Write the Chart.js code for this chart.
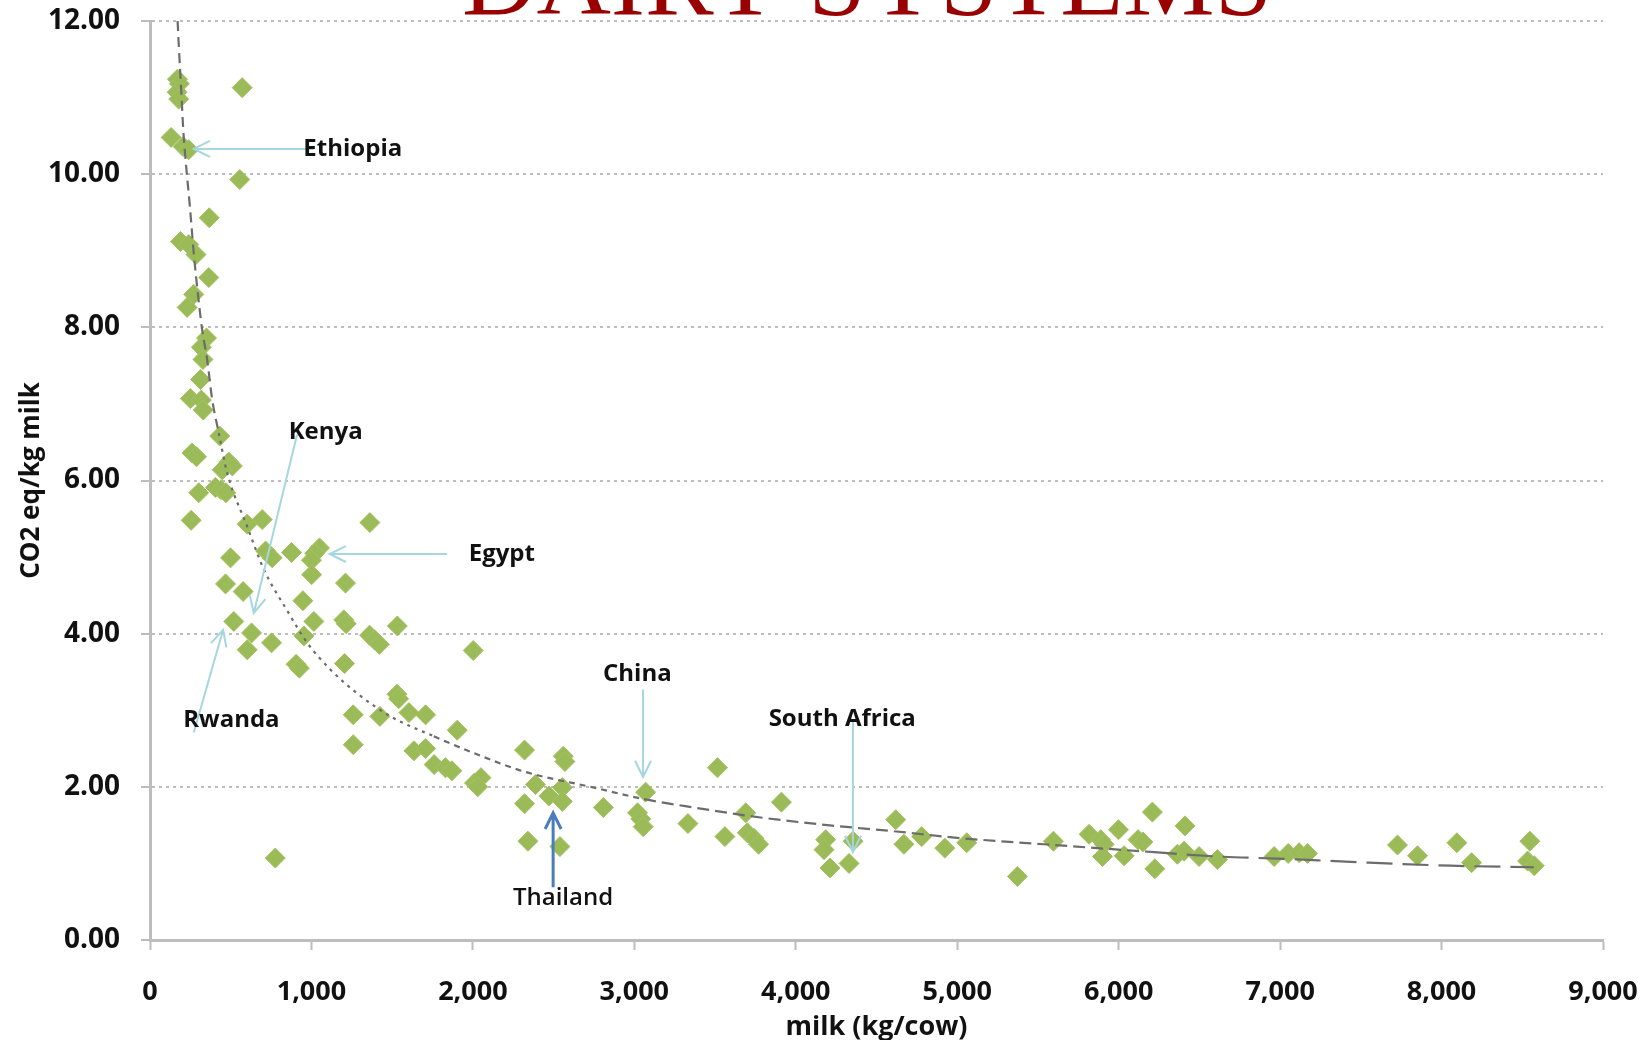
<!DOCTYPE html>
<html>
<head>
<meta charset="utf-8">
<script src="https://cdn.jsdelivr.net/npm/chart.js@4.4.1/dist/chart.umd.min.js"></script>
<style>
  html, body { margin: 0; padding: 0; background: #ffffff; overflow: hidden; }
  canvas { display: block; }
</style>
</head>
<body>
<canvas id="c" width="1648" height="1040"></canvas>
<script>
// Milk yield per cow (kg/cow) and emission intensity (kg CO2 eq per kg milk)
const milkYield = [
  170,182,168,178,571,131,205,240,556,367,
  189,240,285,364,271,230,350,318,328,313,
  250,318,330,432,260,288,488,510,447,302,
  405,440,470,255,602,695,1362,499,716,757,
  877,1050,1020,1000,1001,1211,468,577,947,1015,
  1200,1215,519,1532,629,953,1360,1390,1420,753,
  602,2002,905,925,1205,1530,1540,1259,1424,1604,
  1707,1903,1259,1635,1707,1760,1830,1870,2010,2050,
  2030,2320,2560,2570,2388,2554,2471,2554,2320,2341,
  2539,776,3515,3070,2808,3020,3040,3055,3332,3911,
  3690,3561,3700,3740,3770,4185,4175,4355,4212,4330,
  4619,4670,4780,4923,5059,5373,5596,5817,5889,5910,
  5999,5900,6034,6120,6150,6209,6224,6411,6364,6405,
  6498,6612,6963,7050,7118,7170,7727,7851,8095,8186,
  8547,8533,8574
];
const co2PerKg = [
  11.24,11.18,11.07,10.98,11.13,10.48,10.36,10.32,9.93,9.43,
  9.12,9.08,8.95,8.65,8.43,8.26,7.86,7.74,7.58,7.32,
  7.07,7.05,6.92,6.58,6.36,6.31,6.24,6.19,6.14,5.84,
  5.91,5.88,5.84,5.48,5.43,5.49,5.45,4.99,5.08,4.99,
  5.06,5.12,5.05,4.96,4.77,4.66,4.65,4.55,4.43,4.16,
  4.18,4.13,4.16,4.10,4.01,3.97,3.98,3.92,3.86,3.88,
  3.79,3.78,3.60,3.55,3.61,3.21,3.15,2.94,2.92,2.97,
  2.94,2.74,2.55,2.47,2.50,2.29,2.25,2.21,2.05,2.12,
  2.00,2.48,2.40,2.33,2.03,1.99,1.88,1.81,1.78,1.29,
  1.22,1.07,2.25,1.93,1.73,1.66,1.58,1.48,1.52,1.80,
  1.66,1.35,1.40,1.33,1.25,1.31,1.18,1.29,0.94,1.00,
  1.57,1.25,1.35,1.20,1.27,0.83,1.29,1.38,1.31,1.25,
  1.44,1.09,1.10,1.31,1.28,1.67,0.93,1.49,1.12,1.16,
  1.09,1.05,1.09,1.13,1.14,1.13,1.24,1.10,1.27,1.01,
  1.29,1.03,0.97
];

// Fitted trend curve, sampled along its length
const trendMilk = [171,179,193,206,224,247,271,296,323,354,385,426,478,602,705,850,974,1118,1284,1490,
                   1758,2006,2316,2750,3060,3369,3782,4196,4608,5022,5538,6199,6612,7025,7438,8058,8572];
const trendCo2  = [12.0,11.65,11.11,10.58,10.10,9.58,8.97,8.45,7.97,7.58,7.06,6.62,6.10,5.40,4.84,4.30,3.88,3.53,3.22,2.92,
                   2.66,2.44,2.20,1.99,1.84,1.73,1.60,1.50,1.42,1.33,1.25,1.15,1.09,1.06,1.02,0.97,0.95];

// Axis tick labels
const xTickLabels = ['0','1,000','2,000','3,000','4,000','5,000','6,000','7,000','8,000','9,000'];
const yTickLabels = ['0.00','2.00','4.00','6.00','8.00','10.00','12.00'];

// Country call-outs: label anchor, arrow tail and arrow tip, all in data units
const calloutNames  = ['Ethiopia','Kenya','Egypt','Rwanda','China','South Africa','Thailand'];
const calloutTextAt = [[950,10.24],[859,6.54],[1974,4.95],[206,2.78],[2806,3.38],[3832,2.80],[2248,0.46]];
const calloutFrom   = [[1014,10.33],[911,6.60],[1840,5.04],[271,2.71],[3054,3.27],[4354,2.88],[2497,0.69]];
const calloutTo     = [[271,10.33],[643,4.27],[1113,5.04],[453,4.05],[3054,2.13],[4354,1.15],[2497,1.66]];

const heading = 'DAIRY SYSTEMS';

const FONT = "'Open Sans', 'Noto Sans', sans-serif";
Chart.defaults.font.family = FONT;
Chart.defaults.color = '#111111';

const scatterPoints = milkYield.map((m, i) => ({ x: m, y: co2PerKg[i] }));
const trendPoints = trendMilk.map((m, i) => ({ x: m, y: trendCo2[i] }));

function trendDash(seg) {
  const x0 = seg.p0.parsed.x;
  if (x0 < 400) return [10, 6];
  if (x0 < 1600) return [3, 5];
  if (x0 < 2800) return [6, 5];
  if (x0 < 5600) return [12, 6];
  return [26, 10];
}

function drawArrow(ctx, x1, y1, x2, y2, color, width) {
  const ang = Math.atan2(y2 - y1, x2 - x1);
  const len = 18, spread = 0.46;
  ctx.save();
  ctx.strokeStyle = color;
  ctx.lineWidth = width;
  ctx.lineCap = 'butt';
  ctx.beginPath();
  ctx.moveTo(x1, y1);
  ctx.lineTo(x2, y2);
  ctx.moveTo(x2 - len * Math.cos(ang - spread), y2 - len * Math.sin(ang - spread));
  ctx.lineTo(x2, y2);
  ctx.lineTo(x2 - len * Math.cos(ang + spread), y2 - len * Math.sin(ang + spread));
  ctx.stroke();
  ctx.restore();
}

// Keep tick-label overhang from shrinking the plot area
function noOverhang(s) {
  s.paddingTop = 0; s.paddingBottom = 0; s.paddingLeft = 0; s.paddingRight = 0;
}

const decorPlugin = {
  id: 'decor',
  beforeDraw(chart) {
    const ctx = chart.ctx;
    ctx.save();
    ctx.fillStyle = '#ffffff';
    ctx.fillRect(0, 0, chart.width, chart.height);
    ctx.restore();
  },
  afterDatasetsDraw(chart) {
    const { ctx, scales: { x, y } } = chart;
    calloutNames.forEach((name, i) => {
      const isThai = name === 'Thailand';
      const color = isThai ? '#4a7ebb' : '#a6d6de';
      drawArrow(ctx,
        x.getPixelForValue(calloutFrom[i][0]), y.getPixelForValue(calloutFrom[i][1]),
        x.getPixelForValue(calloutTo[i][0]), y.getPixelForValue(calloutTo[i][1]),
        color, isThai ? 3 : 2);
      ctx.save();
      ctx.font = (isThai ? '600 ' : 'bold ') + '24px ' + FONT;
      ctx.fillStyle = '#111111';
      ctx.textAlign = 'left';
      ctx.textBaseline = 'alphabetic';
      ctx.fillText(name, x.getPixelForValue(calloutTextAt[i][0]), y.getPixelForValue(calloutTextAt[i][1]));
      ctx.restore();
    });

    // Slide heading, running off the top edge
    ctx.save();
    ctx.font = "100px 'Liberation Serif', 'DejaVu Serif', serif";
    ctx.fillStyle = '#990000';
    ctx.textBaseline = 'alphabetic';
    const w = ctx.measureText(heading).width;
    ctx.translate(462, 14);
    ctx.scale(810 / w, 1);
    ctx.fillText(heading, 0, 0);
    ctx.restore();
  }
};

new Chart(document.getElementById('c'), {
  type: 'scatter',
  data: {
    datasets: [
      {
        type: 'line',
        label: 'Trend',
        data: trendPoints,
        order: 0,
        borderColor: '#6c6c6c',
        borderWidth: 2.2,
        pointRadius: 0,
        fill: false,
        cubicInterpolationMode: 'monotone',
        segment: { borderDash: trendDash }
      },
      {
        label: 'Dairy systems',
        data: scatterPoints,
        order: 1,
        pointStyle: 'rectRot',
        pointRadius: 10,
        pointHoverRadius: 10,
        backgroundColor: '#9bbb59',
        borderColor: '#a4c363',
        borderWidth: 1
      }
    ]
  },
  options: {
    responsive: false,
    animation: false,
    devicePixelRatio: 1,
    layout: { padding: { top: 21, right: 45, left: 0, bottom: 0 } },
    plugins: {
      legend: { display: false },
      tooltip: { enabled: false }
    },
    scales: {
      x: {
        type: 'linear',
        min: 0,
        max: 9000,
        afterFit: s => { s.height = 100; noOverhang(s); },
        afterBuildTicks: s => { s.ticks = xTickLabels.map((_, i) => ({ value: i * 1000 })); },
        ticks: {
          callback: (v, i) => xTickLabels[i],
          font: { size: 27, weight: 'bold' },
          color: '#111111',
          padding: 26,
          maxRotation: 0,
          autoSkip: false
        },
        grid: {
          drawOnChartArea: false,
          drawTicks: true,
          tickLength: 10,
          tickColor: '#bdbdbd',
          tickWidth: 2
        },
        border: { display: true, color: '#bdbdbd', width: 3 },
        title: {
          display: true,
          text: 'milk (kg/cow)',
          font: { size: 27, weight: 'bold' },
          color: '#111111',
          padding: { top: 0, bottom: -4 }
        }
      },
      y: {
        type: 'linear',
        min: 0,
        max: 12,
        afterFit: s => { s.width = 150; noOverhang(s); },
        afterBuildTicks: s => { s.ticks = yTickLabels.map((_, i) => ({ value: i * 2 })); },
        ticks: {
          callback: (v, i) => yTickLabels[i],
          font: { size: 28, weight: 'bold' },
          color: '#111111',
          padding: 21
        },
        grid: {
          color: '#bdbdbd',
          lineWidth: 2,
          drawTicks: true,
          tickLength: 9,
          tickColor: '#bdbdbd',
          tickWidth: 2,
          tickBorderDash: []
        },
        border: { display: true, color: '#bdbdbd', width: 3, dash: [3, 4] },
        title: {
          display: true,
          text: 'CO2 eq/kg milk',
          font: { size: 26, weight: 'bold' },
          color: '#111111',
          padding: { top: 16, bottom: 0 }
        }
      }
    }
  },
  plugins: [decorPlugin]
});
</script>
</body>
</html>
